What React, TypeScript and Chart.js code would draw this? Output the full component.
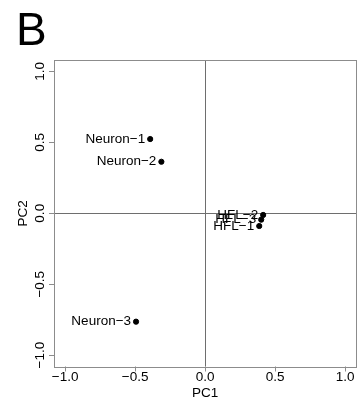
import React, { useEffect, useRef } from "react";
import { Chart, registerables } from "chart.js";

Chart.register(...registerables);

const sampleNames = ["Neuron−1", "Neuron−2", "Neuron−3", "HFL−1", "HFL−2", "HFL−3"];
const pc1Values = [-0.393, -0.313, -0.494, 0.386, 0.414, 0.4];
const pc2Values = [0.523, 0.363, -0.764, -0.09, -0.012, -0.045];

const xTickValues = [-1, -0.5, 0, 0.5, 1];
const xTickLabels = ["−1.0", "−0.5", "0.0", "0.5", "1.0"];
const yTickValues = [-1, -0.5, 0, 0.5, 1];
const yTickLabels = ["−1.0", "−0.5", "0.0", "0.5", "1.0"];

const panelLetter = "B";
const xTitle = "PC1";
const yTitle = "PC2";

const FONT = '"Liberation Sans", Arial, Helvetica, sans-serif';

const decorPlugin = {
  id: "decor",
  beforeDatasetsDraw(chart: any) {
    const ctx = chart.ctx;
    const area = chart.chartArea;
    const xs = chart.scales.x;
    const ys = chart.scales.y;
    ctx.save();
    ctx.strokeStyle = "#6e6e6e";
    ctx.lineWidth = 1;
    const x0 = Math.round(xs.getPixelForValue(0)) + 0.5;
    const y0 = Math.round(ys.getPixelForValue(0)) + 0.5;
    ctx.beginPath();
    ctx.moveTo(x0, area.top);
    ctx.lineTo(x0, area.bottom);
    ctx.moveTo(area.left, y0);
    ctx.lineTo(area.right, y0);
    ctx.stroke();
    ctx.restore();
  },
  afterDraw(chart: any) {
    const ctx = chart.ctx;
    const area = chart.chartArea;
    const xs = chart.scales.x;
    const ys = chart.scales.y;
    ctx.save();
    ctx.strokeStyle = "#8c8c8c";
    ctx.lineWidth = 1;
    ctx.strokeRect(
      Math.round(area.left) + 0.5,
      Math.round(area.top) + 0.5,
      Math.round(area.right - area.left),
      Math.round(area.bottom - area.top)
    );
    ctx.beginPath();
    xTickValues.forEach((v) => {
      const px = Math.round(xs.getPixelForValue(v)) + 0.5;
      ctx.moveTo(px, area.bottom);
      ctx.lineTo(px, area.bottom + 5);
    });
    yTickValues.forEach((v) => {
      const py = Math.round(ys.getPixelForValue(v)) + 0.5;
      ctx.moveTo(area.left, py);
      ctx.lineTo(area.left - 5, py);
    });
    ctx.stroke();
    ctx.fillStyle = "#000";
    ctx.font = `13.5px ${FONT}`;
    ctx.textAlign = "center";
    ctx.textBaseline = "middle";
    xTickValues.forEach((v, i) => {
      ctx.fillText(xTickLabels[i], xs.getPixelForValue(v), area.bottom + 11);
    });
    yTickValues.forEach((v, i) => {
      ctx.save();
      ctx.translate(area.left - 14, ys.getPixelForValue(v));
      ctx.rotate(-Math.PI / 2);
      ctx.fillText(yTickLabels[i], 0, 0);
      ctx.restore();
    });
    ctx.fillText(xTitle, (area.left + area.right) / 2, area.bottom + 27);
    ctx.save();
    ctx.translate(23, (area.top + area.bottom) / 2);
    ctx.rotate(-Math.PI / 2);
    ctx.fillText(yTitle, 0, 0);
    ctx.restore();
    const meta = chart.getDatasetMeta(0);
    ctx.textAlign = "right";
    ctx.textBaseline = "middle";
    meta.data.forEach((el: any, i: number) => {
      ctx.fillText(sampleNames[i], el.x - 5, el.y);
    });
    ctx.font = `46px ${FONT}`;
    ctx.textAlign = "left";
    ctx.textBaseline = "alphabetic";
    ctx.fillText(panelLetter, 16, 45);
    ctx.restore();
  },
};

export default function App() {
  const canvasRef = useRef<HTMLCanvasElement | null>(null);
  useEffect(() => {
    const canvas = canvasRef.current;
    if (!canvas) return;
    const chart = new Chart(canvas, {
      type: "scatter",
      data: {
        datasets: [
          {
            data: pc1Values.map((x, i) => ({ x, y: pc2Values[i] })),
            backgroundColor: "#000",
            borderColor: "#000",
            pointRadius: 2.6,
            pointHoverRadius: 2.6,
          },
        ],
      },
      options: {
        responsive: false,
        animation: false,
        devicePixelRatio: 1,
        layout: { padding: { left: 54, right: 1, top: 60, bottom: 30.5 } },
        plugins: { legend: { display: false }, tooltip: { enabled: false } },
        scales: {
          x: { type: "linear", min: -1.08, max: 1.08, display: false },
          y: { type: "linear", min: -1.08, max: 1.08, display: false },
        },
      },
      plugins: [decorPlugin],
    });
    return () => chart.destroy();
  }, []);
  return (
    <div style={{ position: "absolute", left: 0, top: 0, width: 360, height: 397, background: "#fff" }}>
      <canvas ref={canvasRef} width={360} height={397} />
    </div>
  );
}
